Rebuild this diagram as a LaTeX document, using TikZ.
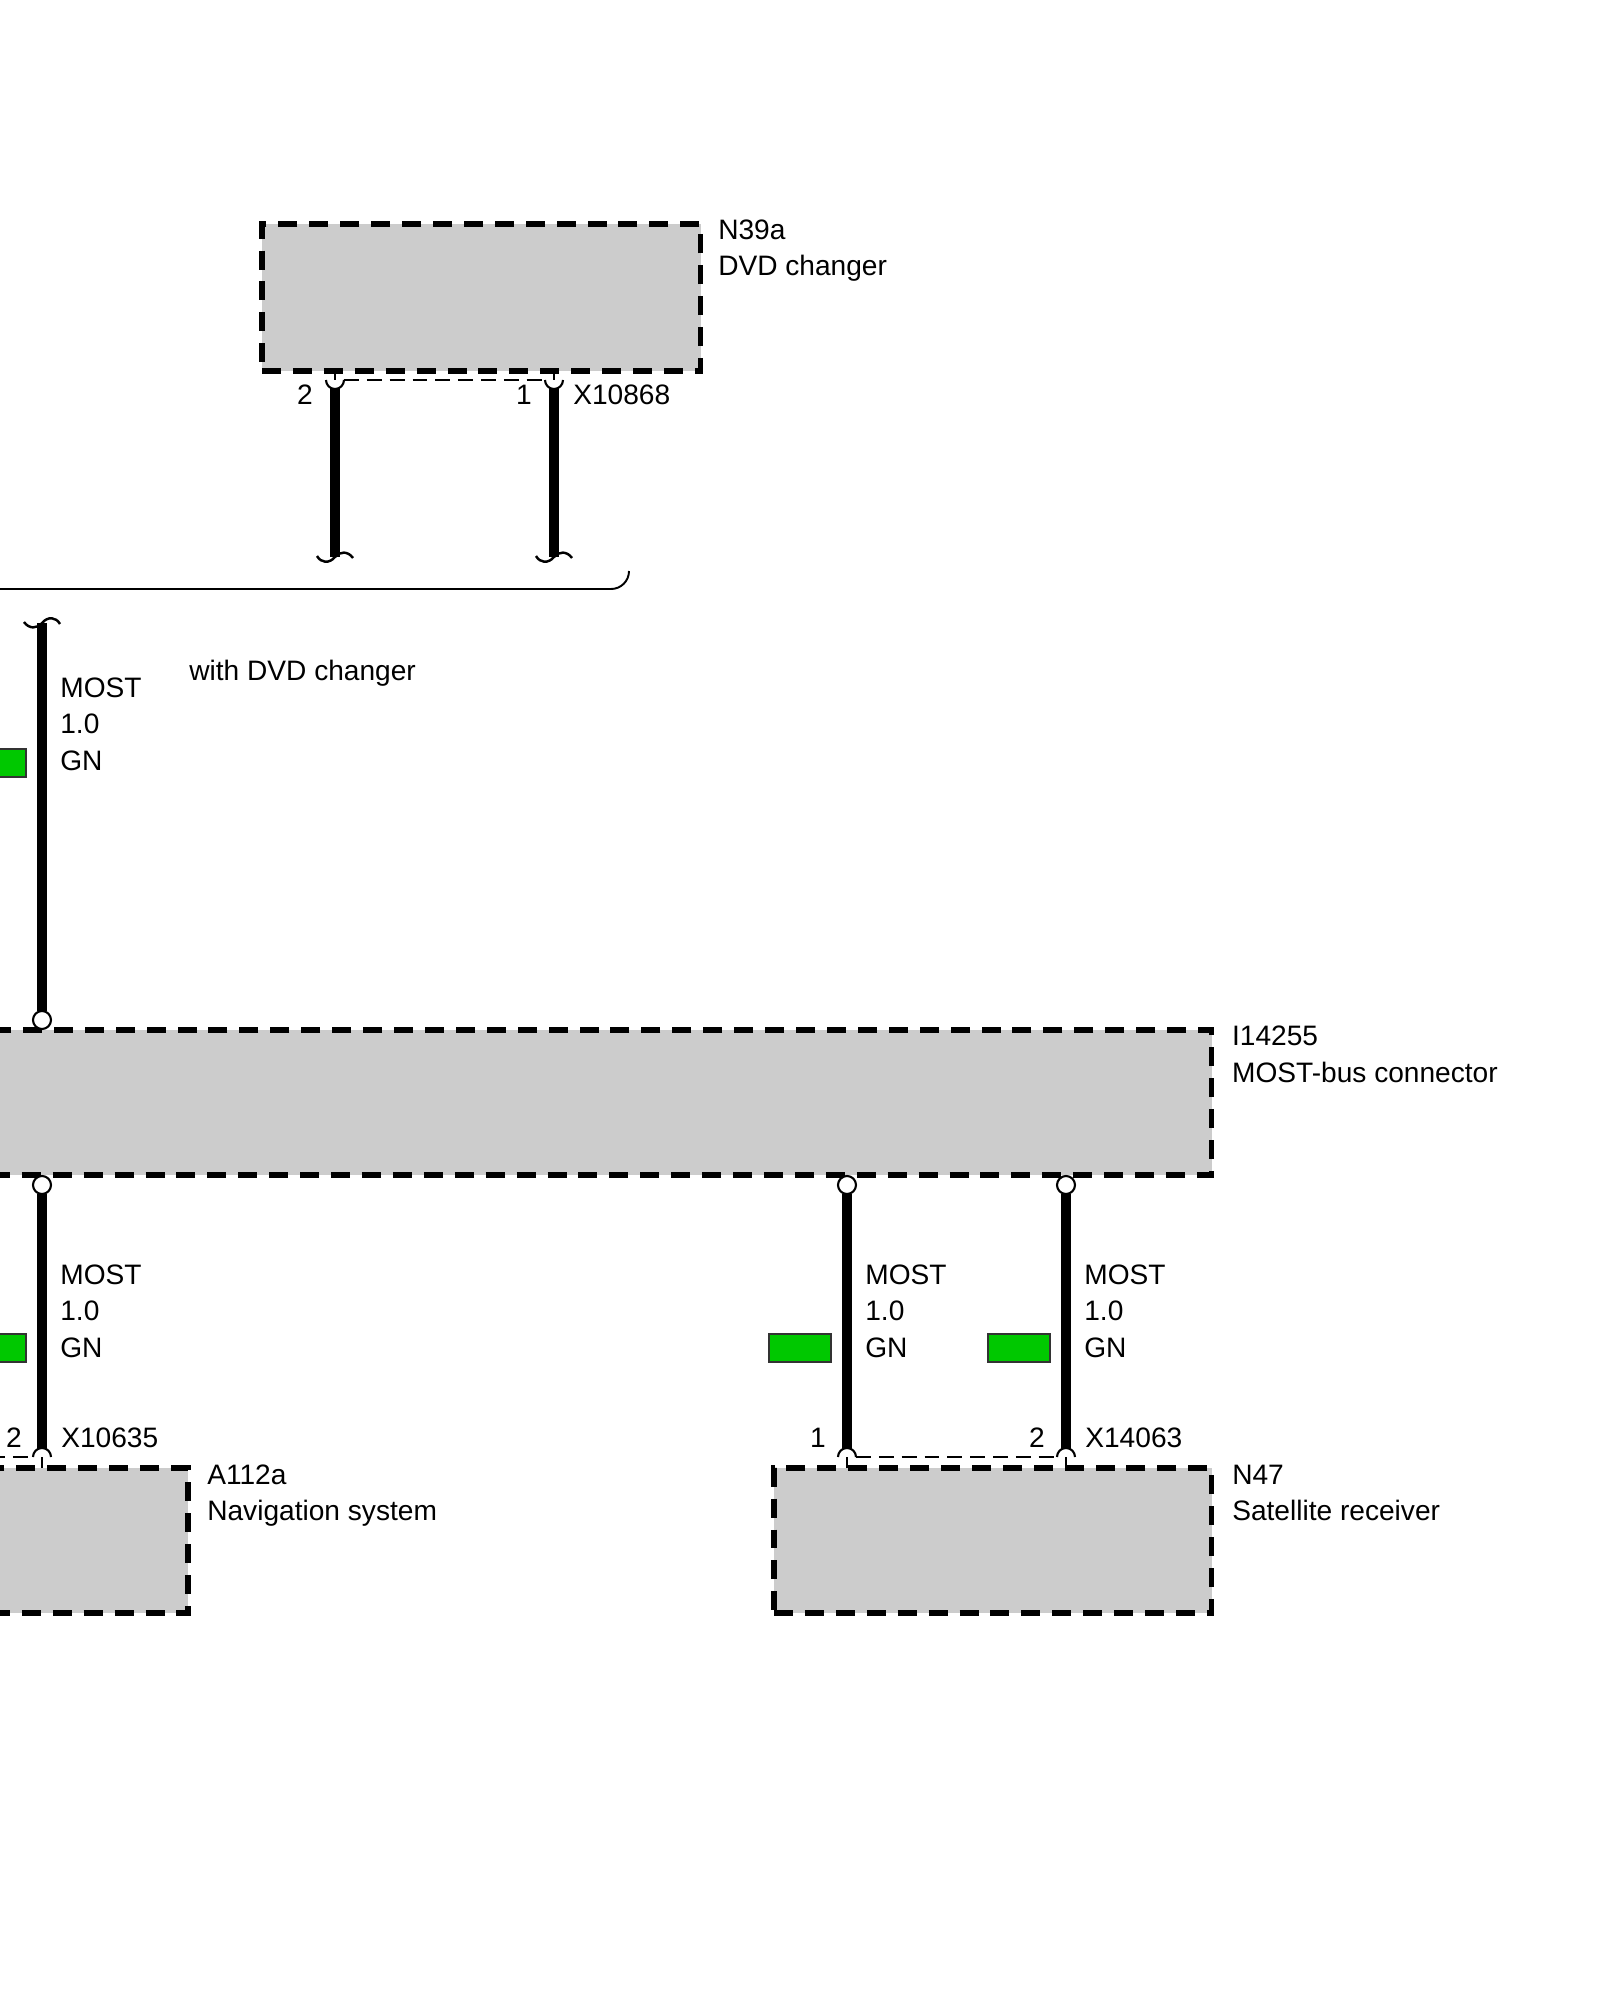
\documentclass[tikz,border=0pt]{standalone}
\usepackage{fontspec}
\setmainfont{Liberation Sans}
\usetikzlibrary{calc}

\definecolor{boxgray}{RGB}{204,204,204}
\definecolor{wiregreen}{RGB}{0,200,0}

\begin{document}
\begin{tikzpicture}[x=0.02cm, y=-0.02cm,
    box/.style={draw, fill=boxgray, line width=2.9pt, dash pattern=on 10.8pt off 6.8pt,
        inner sep=0, outer sep=0, anchor=north west},
    wire/.style={line width=5.3pt},
    pinline/.style={line width=0.9pt, dash pattern=on 8.5pt off 4.5pt},
    tick/.style={line width=0.9pt},
    splice/.style={circle, draw, fill=white, line width=1.2pt, minimum size=0.36cm,
        inner sep=0, outer sep=0},
    colour/.style={draw=black!80, fill=wiregreen, line width=0.9pt, inner sep=0,
        minimum width=1.24cm, minimum height=0.56cm},
    lbl/.style={inner sep=0, anchor=base west, align=left, font=\fontsize{16}{20.5}\selectfont},
    pinno/.style={inner sep=0, anchor=base east, font=\fontsize{16}{20.5}\selectfont},
    brk/.pic={\draw[line width=1.4pt] (-18,-1) .. controls (-14,6) and (-6,7) .. (0,0)
        .. controls (5,-6) and (13,-6) .. (18,1);},
    cupup/.pic={\draw[line width=1.2pt] (-9,0) .. controls (-9,5) and (-5,9) .. (0,9)
        .. controls (5,9) and (9,5) .. (9,0);},
    capdn/.pic={\draw[line width=1.2pt] (-9,0) .. controls (-9,-5) and (-5,-9) .. (0,-9)
        .. controls (5,-9) and (9,-5) .. (9,0);}
]

    \useasboundingbox (0,0) rectangle (1600,2000);
    \clip (0,0) rectangle (1600,2000);

    %% Components
    % (a label's anchor is the baseline of its last line)

    % DVD changer
    \node[box, minimum width=8.78cm, minimum height=2.94cm] (dvd) at (262,224) {};
    \node[lbl] (dvdlab) at ($(dvd.north east)+(17,52)$) {N39a\\DVD changer};

    % MOST-bus connector
    \node[box, minimum width=25.04cm, minimum height=2.9cm] (bus) at (-40,1030) {};
    \node[lbl] (buslab) at ($(bus.north east)+(20,52)$) {I14255\\MOST-bus connector};

    % Navigation system
    \node[box, minimum width=4.56cm, minimum height=2.9cm] (nav) at (-40,1468) {};
    \node[lbl] (navlab) at ($(nav.north east)+(19,52)$) {A112a\\Navigation system};

    % Satellite receiver
    \node[box, minimum width=8.76cm, minimum height=2.9cm] (sat) at (774,1468) {};
    \node[lbl] (satlab) at ($(sat.north east)+(20,52)$) {N47\\Satellite receiver};

    %% X10868

    \coordinate (pa2) at (335,380);
    \coordinate (pa1) at (554,380);
    \draw[tick] (dvd.south -| pa2) -- (pa2);
    \draw[tick] (dvd.south -| pa1) -- (pa1);
    \pic at (pa2) {cupup};
    \pic at (pa1) {cupup};
    \draw[pinline] ($(pa2)+(9,0)$) -- ($(pa1)+(-9,0)$);
    \node[pinno] (pa2no) at (313,404) {2};
    \node[pinno] (pa1no) at (532,404) {1};
    \node[lbl] (palab) at (573,404) {X10868};

    % Wires to the break
    \coordinate (ea2) at (335,557);
    \coordinate (ea1) at (554,557);
    \draw[wire] ($(pa2)+(0,8)$) -- (ea2);
    \draw[wire] ($(pa1)+(0,8)$) -- (ea1);
    \pic at (ea2) {brk};
    \pic at (ea1) {brk};

    % Option bracket
    \coordinate (brl) at (-10,589);
    \coordinate (brr) at (629,571);
    \draw[line width=1.1pt] (brl) -- (611,589) .. controls (621,589) and (629,581) .. (brr);
    \node[lbl] (optlab) at (189,680) {with DVD changer};

    %% Wire from the break to the bus

    \coordinate (sb) at (42,623);
    \node[splice] (st) at (42,1020) {};
    \draw[wire] (sb) -- (st);
    \pic[rotate=180] at (sb) {brk};
    \node[lbl] (stlab) at (60,770) {MOST\\1.0\\GN};
    \node[colour] (stcol) at (-5,763) {};

    %% Bus to X10635 and X14063

    % Splices under the bus
    \node[splice] (sn) at (42,1185) {};
    \node[splice] (ss1) at (847,1185) {};
    \node[splice] (ss2) at (1066,1185) {};

    % Pins
    \coordinate (pn2) at (42,1457);
    \coordinate (ps1) at (847,1457);
    \coordinate (ps2) at (1066,1457);
    \draw[tick] (pn2) -- (nav.north -| pn2);
    \draw[tick] (ps1) -- (sat.north -| ps1);
    \draw[tick] (ps2) -- (sat.north -| ps2);
    \pic at (pn2) {capdn};
    \pic at (ps1) {capdn};
    \pic at (ps2) {capdn};
    \draw[pinline] (-10,1457) -- ($(pn2)+(-9,0)$);
    \draw[pinline] ($(ps1)+(9,0)$) -- ($(ps2)+(-9,0)$);

    % Wires
    \draw[wire] (sn) -- ($(pn2)+(0,-8)$);
    \draw[wire] (ss1) -- ($(ps1)+(0,-8)$);
    \draw[wire] (ss2) -- ($(ps2)+(0,-8)$);

    % Wire labels and colours
    \node[lbl] (snlab) at (60,1357) {MOST\\1.0\\GN};
    \node[lbl] (ss1lab) at (865,1357) {MOST\\1.0\\GN};
    \node[lbl] (ss2lab) at (1084,1357) {MOST\\1.0\\GN};
    \node[colour] (sncol) at (-5,1348) {};
    \node[colour] (ss1col) at (800,1348) {};
    \node[colour] (ss2col) at (1019,1348) {};

    % Pin numbers
    \node[pinno] (pn2no) at (22,1447) {2};
    \node[pinno] (ps1no) at (826,1447) {1};
    \node[pinno] (ps2no) at (1045,1447) {2};
    \node[lbl] (pnlab) at (61,1447) {X10635};
    \node[lbl] (pslab) at (1085,1447) {X14063};

\end{tikzpicture}
\end{document}
